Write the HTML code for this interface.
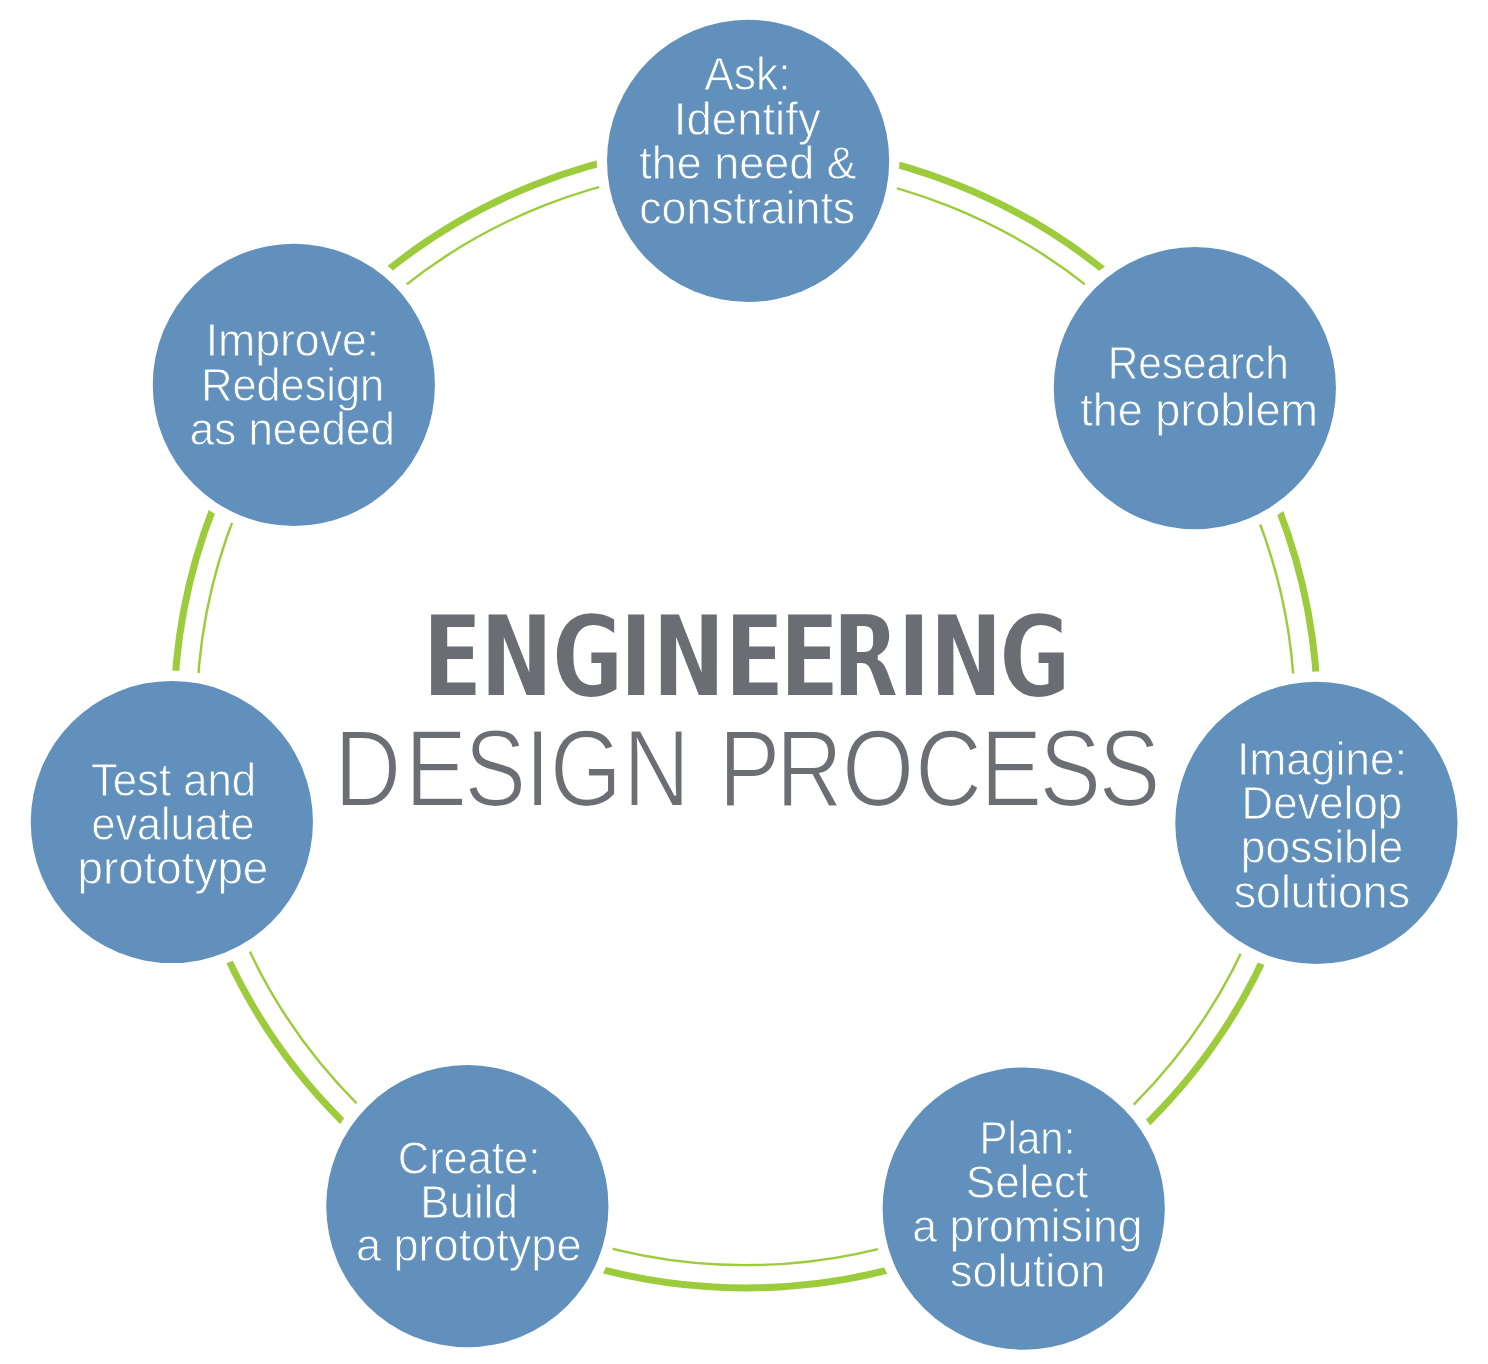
<!DOCTYPE html>
<html lang="en"><head><meta charset="utf-8"><title>Engineering Design Process</title>
<style>
html,body{margin:0;padding:0;background:#fff}
svg{display:block}
.caption,#title{will-change:transform}
.halo{fill:#fff}
.disc{fill:#6090bb}
.caption text{font-family:"Liberation Sans",sans-serif;font-size:45.7px;fill:#fff;stroke:#6090bb;stroke-width:0.8px;stroke-linejoin:miter}
.t1{font-family:"DejaVu Sans","Liberation Sans",sans-serif;font-weight:bold;fill:#6b6e73}
.t2{font-family:"Liberation Sans",sans-serif;fill:#6b6e73;stroke:#fff;stroke-width:2.2px;stroke-linejoin:miter}
</style></head>
<body>
<svg width="1488" height="1364" viewBox="0 0 1488 1364">
<defs><filter id="cond" filterUnits="userSpaceOnUse" x="380" y="560" width="740" height="200"><feMorphology operator="erode" radius="0 2"/></filter></defs>
<g id="art">
<rect width="1488" height="1364" fill="#fff"/>
<circle class="ring ring-outer" cx="745.8" cy="716.1" r="571.8" fill="none" stroke="#9ccb3b" stroke-width="7"/>
<circle class="ring ring-inner" cx="745.8" cy="716.1" r="549" fill="none" stroke="#9ccb3b" stroke-width="2.4"/>
</g>
<g class="node" id="node-ask">
<circle class="halo" cx="748.1" cy="160.85" r="151.4"/>
<circle class="disc" cx="748.1" cy="160.85" r="141.1"/>
<g class="caption">
<text transform="translate(704.22 90.08) scale(0.9720 1)">Ask:</text>
<text transform="translate(673.86 134.58) scale(0.9964 1)">Identify</text>
<text transform="translate(639.33 179.28) scale(0.9826 1)">the need &amp;</text>
<text transform="translate(639.13 223.58) scale(0.9781 1)">constraints</text>
</g>
</g>
<g class="node" id="node-research">
<circle class="halo" cx="1194.85" cy="388.05" r="151.4"/>
<circle class="disc" cx="1194.85" cy="388.05" r="141.1"/>
<g class="caption">
<text transform="translate(1107.63 378.98) scale(0.9270 1)">Research</text>
<text transform="translate(1080.16 425.78) scale(0.9857 1)">the problem</text>
</g>
</g>
<g class="node" id="node-imagine">
<circle class="halo" cx="1316.4" cy="822.95" r="151.4"/>
<circle class="disc" cx="1316.4" cy="822.95" r="141.1"/>
<g class="caption">
<text transform="translate(1236.90 775.08) scale(0.9707 1)">Imagine:</text>
<text transform="translate(1241.51 818.98) scale(0.9580 1)">Develop</text>
<text transform="translate(1240.81 863.28) scale(0.9679 1)">possible</text>
<text transform="translate(1233.71 907.68) scale(0.9778 1)">solutions</text>
</g>
</g>
<g class="node" id="node-plan">
<circle class="halo" cx="1023.7" cy="1208.55" r="151.4"/>
<circle class="disc" cx="1023.7" cy="1208.55" r="141.1"/>
<g class="caption">
<text transform="translate(979.61 1153.78) scale(0.9191 1)">Plan:</text>
<text transform="translate(965.74 1198.18) scale(0.9646 1)">Select</text>
<text transform="translate(912.29 1242.48) scale(0.9742 1)">a promising</text>
<text transform="translate(949.99 1286.88) scale(0.9868 1)">solution</text>
</g>
</g>
<g class="node" id="node-create">
<circle class="halo" cx="467.35" cy="1206.15" r="151.4"/>
<circle class="disc" cx="467.35" cy="1206.15" r="141.1"/>
<g class="caption">
<text transform="translate(397.75 1173.88) scale(0.9514 1)">Create:</text>
<text transform="translate(420.34 1217.88) scale(0.9593 1)">Build</text>
<text transform="translate(355.91 1261.38) scale(0.9870 1)">a prototype</text>
</g>
</g>
<g class="node" id="node-test">
<circle class="halo" cx="171.85" cy="822.0" r="151.4"/>
<circle class="disc" cx="171.85" cy="822.0" r="141.1"/>
<g class="caption">
<text transform="translate(91.00 795.58) scale(0.9558 1)">Test and</text>
<text transform="translate(91.45 840.28) scale(0.9447 1)">evaluate</text>
<text transform="translate(77.44 884.28) scale(1.0021 1)">prototype</text>
</g>
</g>
<g class="node" id="node-improve">
<circle class="halo" cx="293.85" cy="384.85" r="151.4"/>
<circle class="disc" cx="293.85" cy="384.85" r="141.1"/>
<g class="caption">
<text transform="translate(205.66 356.38) scale(0.9761 1)">Improve:</text>
<text transform="translate(201.15 401.08) scale(0.9482 1)">Redesign</text>
<text transform="translate(189.87 445.08) scale(0.9603 1)">as needed</text>
</g>
</g>
<g id="title">
<g filter="url(#cond)"><text class="t1" font-size="115.6" x="571.03 648.93 745.71 837.02 881.25 978.67 1053.10 1124.15 1211.72 1255.34 1349.13" transform="translate(0 696.50) scale(0.7410 1)">ENGINEERING</text></g>
<text class="t2" font-size="109.9" x="395.45 479.25 549.29 621.01 650.55 737.15 787.15 850.38 918.06 996.40 1082.99 1160.08 1229.94 1299.94" transform="translate(0 805.90) scale(0.8450 1)">DESIGN PROCESS</text>
</g>
</svg>
</body></html>
